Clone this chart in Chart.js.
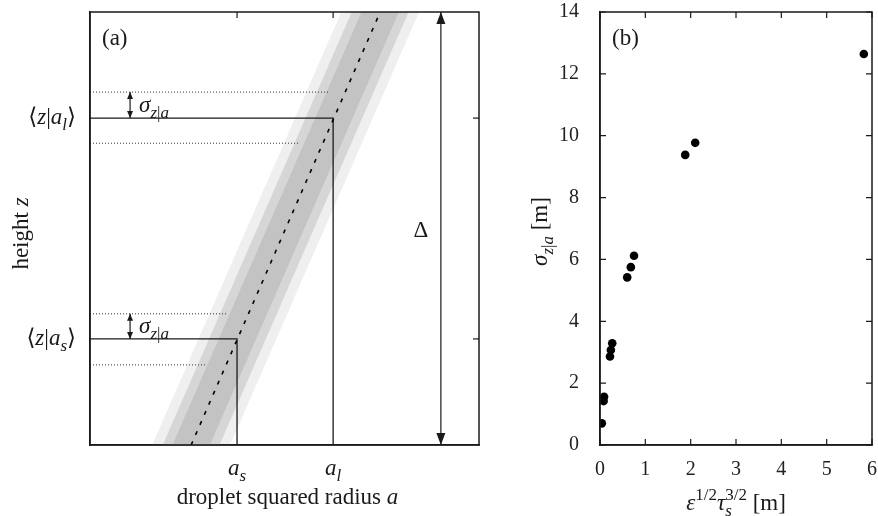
<!DOCTYPE html>
<html><head><meta charset="utf-8">
<script src="https://cdn.jsdelivr.net/npm/chart.js@4.4.0/dist/chart.umd.min.js"></script>
<style>
html,body{margin:0;padding:0;background:#fff;}
#wrap{position:relative;width:878px;height:516px;overflow:hidden;background:#fff;}
.box{position:absolute;top:0;}
</style></head><body>
<div id="wrap">
<div class="box" style="left:0;width:490px;height:516px"><canvas id="ca" width="490" height="516"></canvas></div>
<div class="box" style="left:490px;width:388px;height:516px"><canvas id="cb" width="388" height="516"></canvas></div>
</div>
<script>
const FAM = '"Liberation Serif","DejaVu Serif",serif';
const INK = '#1a1a1a';
const FS = 23;      // label / title text
const FT = 20;      // numeric tick labels

// ---------- Panel (b): measured sigma_{z|a} vs eps^{1/2} tau_s^{3/2} ----------
const xB = [0.04, 0.08, 0.09, 0.22, 0.24, 0.27, 0.60, 0.68, 0.75, 1.88, 2.10, 5.82];
const yB = [0.70, 1.42, 1.56, 2.86, 3.07, 3.29, 5.42, 5.75, 6.12, 9.38, 9.77, 12.64];
const xTicksB = [0, 1, 2, 3, 4, 5, 6];
const yTicksB = [0, 2, 4, 6, 8, 10, 12, 14];

// ---------- Panel (a): schematic, normalised units (0..1) ----------
const aSubs = ['s', 'l'];
const aValues = [0.378, 0.625];          // a_s, a_l
const zMeanValues = [0.245, 0.755];      // <z|a_s>, <z|a_l>
const zUpperDotted = [0.303, 0.815];
const zLowerDotted = [0.185, 0.697];
const upperDottedEnd = [0.352, 0.617];
const lowerDottedEnd = [0.301, 0.540];
const meanLineX = [0.260, 0.746];
const meanLineZ = [0, 1];
const cloudZ = [0, 1, 1, 0, 0];
const cloudInnerX = [0.212, 0.698, 0.794, 0.308, 0.212];
const cloudMidX   = [0.187, 0.673, 0.819, 0.333, 0.187];
const cloudOuterX = [0.160, 0.646, 0.846, 0.360, 0.160];
const sigmaArrowX = 0.103;
const deltaArrowX = 0.902;

// ---------- rich text helper ----------
function fontOf(it, size){ return (it ? 'italic ' : '') + size + 'px ' + FAM; }
function layoutRich(ctx, parts, S){
  let x = 0, pend = 0; const items = [];
  for (const p of parts){
    const [t, it, pos, stack] = p;
    const size = pos ? Math.round(S*0.72) : S;
    ctx.font = fontOf(it, size);
    const w = ctx.measureText(t).width;
    items.push({t, it, size, dx: x, dy: pos === -1 ? S*0.27 : (pos === 1 ? -S*0.42 : 0)});
    if (stack) { pend = w; } else { x += Math.max(w, pend); pend = 0; }
  }
  return {items, width: x};
}
function drawRich(ctx, parts, x, y, align, rot, S){
  S = S || FS;
  const L = layoutRich(ctx, parts, S);
  ctx.save();
  ctx.translate(x, y);
  if (rot) ctx.rotate(-Math.PI/2);
  const off = align === 'center' ? -L.width/2 : (align === 'right' ? -L.width : 0);
  ctx.fillStyle = INK; ctx.textBaseline = 'alphabetic'; ctx.textAlign = 'left';
  for (const it of L.items){ ctx.font = fontOf(it.it, it.size); ctx.fillText(it.t, off + it.dx, it.dy); }
  ctx.restore();
}
function arrowHead(ctx, x, yTip, dir, len, hw){
  ctx.beginPath(); ctx.moveTo(x, yTip); ctx.lineTo(x - hw, yTip - dir*len); ctx.lineTo(x + hw, yTip - dir*len); ctx.closePath(); ctx.fill();
}
function zip(xs, ys){ return xs.map((v, i) => ({x: v, y: ys[i]})); }

// ---------- Panel (a) ----------
const dsA = [];
dsA.push({data: zip(meanLineX, meanLineZ), borderColor: '#000', borderWidth: 1.6, borderDash: [4, 7]});
aValues.forEach((a, i) => {
  const zm = zMeanValues[i];
  dsA.push({data: [{x: 0, y: zm}, {x: a, y: zm}, {x: a, y: 0}], borderColor: INK, borderWidth: 1.3});
  dsA.push({data: [{x: 0, y: zUpperDotted[i]}, {x: upperDottedEnd[i], y: zUpperDotted[i]}], borderColor: '#333', borderWidth: 1, borderDash: [1, 2]});
  dsA.push({data: [{x: 0, y: zLowerDotted[i]}, {x: lowerDottedEnd[i], y: zLowerDotted[i]}], borderColor: '#333', borderWidth: 1, borderDash: [1, 2]});
  dsA.push({data: [{x: sigmaArrowX, y: zm}, {x: sigmaArrowX, y: zUpperDotted[i]}], borderColor: INK, borderWidth: 1.2});
});
dsA.push({data: [{x: deltaArrowX, y: 0}, {x: deltaArrowX, y: 1}], borderColor: INK, borderWidth: 1.2});
dsA.push({data: zip(cloudInnerX, cloudZ), borderWidth: 0, fill: 'shape', backgroundColor: 'rgba(178,178,178,0.55)'});
dsA.push({data: zip(cloudMidX, cloudZ), borderWidth: 0, fill: 'shape', backgroundColor: 'rgba(185,185,185,0.45)'});
dsA.push({data: zip(cloudOuterX, cloudZ), borderWidth: 0, fill: 'shape', backgroundColor: 'rgba(192,192,192,0.25)'});
dsA.forEach(d => { d.showLine = true; d.pointRadius = 0; d.tension = 0; });

const plugA = {
  id: 'plugA',
  afterDatasetsDraw(chart){
    const {ctx, chartArea: ca, scales: {x, y}} = chart;
    ctx.save();
    ctx.strokeStyle = INK; ctx.fillStyle = INK; ctx.lineWidth = 1.5;
    ctx.strokeRect(ca.left, ca.top, ca.right - ca.left, ca.bottom - ca.top);
    ctx.lineWidth = 1.2;
    aValues.forEach(a => { const px = x.getPixelForValue(a); ctx.beginPath(); ctx.moveTo(px, ca.top); ctx.lineTo(px, ca.top + 6); ctx.stroke(); });
    zMeanValues.forEach(z => { const py = y.getPixelForValue(z); ctx.beginPath(); ctx.moveTo(ca.right - 6, py); ctx.lineTo(ca.right, py); ctx.stroke(); });
    const dx = x.getPixelForValue(deltaArrowX);
    arrowHead(ctx, dx, ca.top, -1, 12, 4.5);
    arrowHead(ctx, dx, ca.bottom, 1, 12, 4.5);
    const sx = x.getPixelForValue(sigmaArrowX);
    zMeanValues.forEach((z, i) => {
      arrowHead(ctx, sx, y.getPixelForValue(zUpperDotted[i]), -1, 7, 3);
      arrowHead(ctx, sx, y.getPixelForValue(z), 1, 7, 3);
    });
    ctx.restore();
    drawRich(ctx, [['(a)', 0, 0]], ca.left + 12, ca.top + 33, 'left');
    aValues.forEach((a, i) => {
      const py = y.getPixelForValue(zMeanValues[i]);
      drawRich(ctx, [['⟨', 0, 0], ['z', 1, 0], ['|', 0, 0], ['a', 1, 0], [aSubs[i], 1, -1], ['⟩', 0, 0]], ca.left - 14, py + 6, 'right');
      drawRich(ctx, [['a', 1, 0], [aSubs[i], 1, -1]], x.getPixelForValue(a), ca.bottom + 30, 'center');
      drawRich(ctx, [['σ', 1, 0], ['z', 1, -1], ['|', 0, -1], ['a', 1, -1]], sx + 9, py - 6, 'left');
    });
    drawRich(ctx, [['Δ', 0, 0]], dx - 20, (ca.top + ca.bottom)/2 + 8, 'center');
    drawRich(ctx, [['droplet squared radius ', 0, 0], ['a', 1, 0]], (ca.left + ca.right)/2 + 3, ca.bottom + 59, 'center');
    drawRich(ctx, [['height ', 0, 0], ['z', 1, 0]], 28, (ca.top + ca.bottom)/2 + 5, 'center', true);
  }
};

new Chart(document.getElementById('ca'), {
  type: 'scatter',
  data: {datasets: dsA},
  options: {
    responsive: false, animation: false, events: [],
    layout: {padding: {left: 0, right: 11, top: 12, bottom: 0}},
    plugins: {legend: {display: false}, tooltip: {enabled: false}},
    scales: {
      x: {type: 'linear', min: 0, max: 1, ticks: {display: false}, grid: {display: false}, border: {display: true, color: INK, width: 1.5}, afterFit: s => { s.height = 71; }},
      y: {type: 'linear', min: 0, max: 1, ticks: {display: false}, grid: {display: false}, border: {display: true, color: INK, width: 1.5}, afterFit: s => { s.width = 90; }}
    }
  },
  plugins: [plugA]
});

// ---------- Panel (b) ----------
const plugB = {
  id: 'plugB',
  afterDatasetsDraw(chart){
    const {ctx, chartArea: ca, scales: {x, y}} = chart;
    ctx.save();
    ctx.strokeStyle = INK; ctx.lineWidth = 1.5;
    ctx.strokeRect(ca.left, ca.top, ca.right - ca.left, ca.bottom - ca.top);
    ctx.lineWidth = 1.2;
    x.ticks.forEach(t => { const px = x.getPixelForValue(t.value); ctx.beginPath(); ctx.moveTo(px, ca.bottom); ctx.lineTo(px, ca.bottom - 6); ctx.moveTo(px, ca.top); ctx.lineTo(px, ca.top + 6); ctx.stroke(); });
    y.ticks.forEach(t => { const py = y.getPixelForValue(t.value); ctx.beginPath(); ctx.moveTo(ca.left, py); ctx.lineTo(ca.left + 6, py); ctx.moveTo(ca.right, py); ctx.lineTo(ca.right - 6, py); ctx.stroke(); });
    ctx.restore();
    drawRich(ctx, [['(b)', 0, 0]], ca.left + 12, ca.top + 33, 'left');
    drawRich(ctx, [['σ', 1, 0], ['z', 1, -1], ['|', 0, -1], ['a', 1, -1], [' [m]', 0, 0]], 57, (ca.top + ca.bottom)/2 + 3, 'center', true);
    drawRich(ctx, [['ε', 1, 0], ['1/2', 0, 1], ['τ', 1, 0], ['s', 1, -1, true], ['3/2', 0, 1], [' [m]', 0, 0]], (ca.left + ca.right)/2, ca.bottom + 65, 'center');
  }
};

new Chart(document.getElementById('cb'), {
  type: 'scatter',
  data: {datasets: [{data: zip(xB, yB), pointRadius: 4.3, backgroundColor: '#000', borderWidth: 0}]},
  options: {
    responsive: false, animation: false, events: [],
    layout: {padding: {left: 0, right: 6, top: 12, bottom: 0}},
    plugins: {legend: {display: false}, tooltip: {enabled: false}},
    scales: {
      x: {type: 'linear', min: xTicksB[0], max: xTicksB[xTicksB.length-1],
          afterBuildTicks: s => { s.ticks = xTicksB.map(v => ({value: v})); },
          ticks: {font: {family: FAM, size: FT}, color: '#222', padding: 5, maxRotation: 0},
          grid: {display: false}, border: {display: true, color: INK, width: 1.5},
          afterFit: s => { s.height = 71; s.paddingLeft = 0; s.paddingRight = 0; }},
      y: {type: 'linear', min: yTicksB[0], max: yTicksB[yTicksB.length-1],
          afterBuildTicks: s => { s.ticks = yTicksB.map(v => ({value: v})); },
          ticks: {font: {family: FAM, size: FT}, color: '#222', padding: 13},
          grid: {display: false}, border: {display: true, color: INK, width: 1.5},
          afterFit: s => { s.width = 110; s.paddingTop = 0; s.paddingBottom = 0; }}
    }
  },
  plugins: [plugB]
});
</script>
</body></html>
